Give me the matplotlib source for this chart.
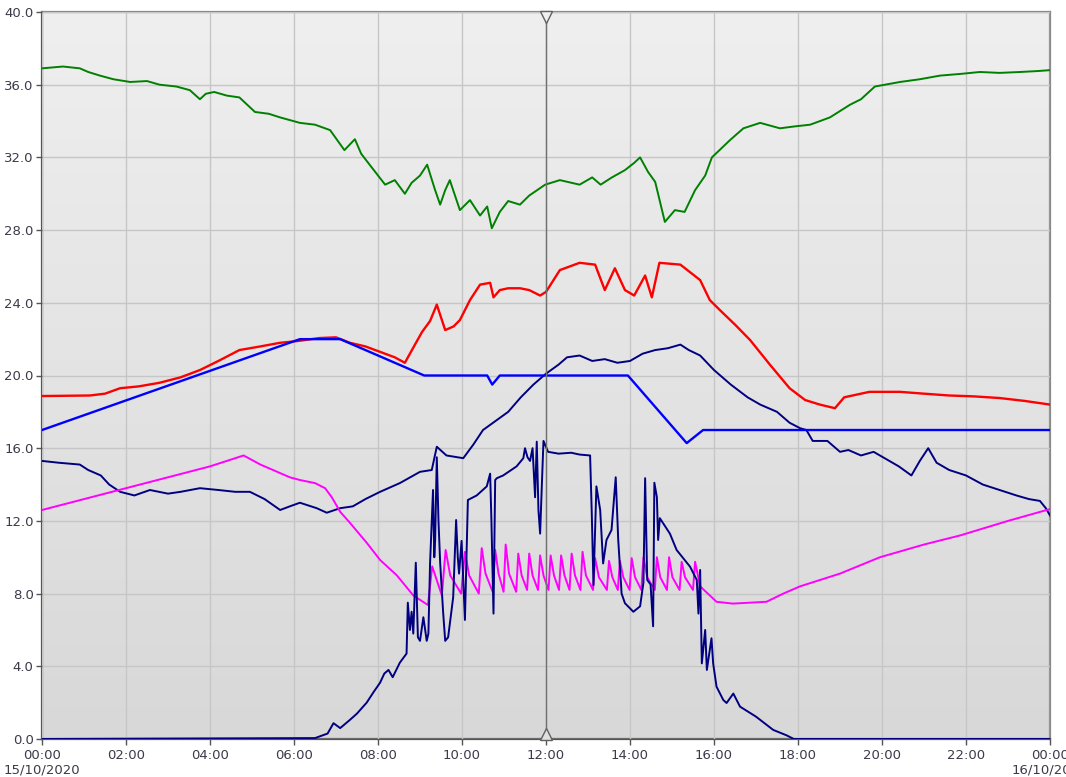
import numpy as np
import matplotlib
matplotlib.use("Agg")
import matplotlib.pyplot as plt
from matplotlib.colors import LinearSegmentedColormap

# hours since 00:00 on 15/10/2020, values read per channel
green_t = [0, 0.5, 0.9, 1.1, 1.38, 1.7, 2.1, 2.5, 2.8, 3.2, 3.52, 3.76, 3.9, 4.1, 4.4, 4.7,
           5.07, 5.4, 5.67, 6.14, 6.5, 6.86, 7.2, 7.45, 7.6, 7.8, 8.17, 8.4, 8.64, 8.8, 9.0,
           9.17, 9.36, 9.48, 9.6, 9.71, 9.95, 10.19, 10.43, 10.6, 10.71, 10.9, 11.1, 11.38,
           11.6, 11.98, 12.33, 12.8, 13.1, 13.3, 13.57, 13.88, 14.1, 14.24, 14.43, 14.6,
           14.83, 15.07, 15.3, 15.55, 15.79, 15.95, 16.38, 16.7, 17.1, 17.57, 17.9, 18.29,
           18.76, 19.24, 19.5, 19.83, 20.43, 20.9, 21.38, 21.9, 22.33, 22.8, 23.29, 23.7, 24]
green_v = [36.9, 37.0, 36.9, 36.7, 36.5, 36.3, 36.15, 36.2, 36.0, 35.9, 35.7, 35.2, 35.5,
           35.6, 35.4, 35.3, 34.5, 34.4, 34.2, 33.9, 33.8, 33.5, 32.4, 33.0, 32.2, 31.6, 30.5,
           30.75, 30.0, 30.6, 31.0, 31.6, 30.2, 29.4, 30.2, 30.75, 29.1, 29.65, 28.8, 29.3,
           28.1, 29.0, 29.6, 29.4, 29.9, 30.5, 30.75, 30.5, 30.9, 30.5, 30.9, 31.3, 31.7,
           32.0, 31.2, 30.65, 28.45, 29.1, 29.0, 30.2, 31.0, 32.0, 32.95, 33.6, 33.9, 33.6,
           33.7, 33.8, 34.2, 34.9, 35.2, 35.9, 36.15, 36.3, 36.5, 36.6, 36.7, 36.65, 36.7,
           36.75, 36.8]

red_t = [0, 1.14, 1.5, 1.86, 2.3, 2.8, 3.3, 3.76, 4.2, 4.7, 5.2, 5.67, 6.1, 6.6, 7.0, 7.33,
         7.7, 8.05, 8.4, 8.64, 8.88, 9.05, 9.24, 9.4, 9.6, 9.8, 9.95, 10.19, 10.43, 10.67,
         10.75, 10.9, 11.1, 11.38, 11.6, 11.86, 12.0, 12.33, 12.8, 13.17, 13.4, 13.64, 13.88,
         14.1, 14.36, 14.52, 14.7, 15.2, 15.67, 15.9, 16.14, 16.5, 16.86, 17.33, 17.8, 18.17,
         18.52, 18.88, 19.1, 19.7, 20.43, 21.0, 21.6, 22.2, 22.8, 23.4, 24]
red_v = [18.87, 18.9, 19.0, 19.3, 19.4, 19.6, 19.9, 20.3, 20.8, 21.4, 21.6, 21.8, 21.9,
         22.06, 22.1, 21.8, 21.6, 21.3, 21.0, 20.7, 21.7, 22.4, 23.0, 23.9, 22.5, 22.7, 23.05,
         24.15, 25.0, 25.1, 24.3, 24.7, 24.8, 24.8, 24.7, 24.4, 24.6, 25.8, 26.2, 26.1, 24.7,
         25.9, 24.7, 24.4, 25.5, 24.3, 26.2, 26.1, 25.25, 24.15, 23.6, 22.8, 21.95, 20.6,
         19.3, 18.65, 18.4, 18.2, 18.8, 19.1, 19.1, 19.0, 18.9, 18.85, 18.76, 18.6, 18.4]

blue_t = [0, 6.14, 7.1, 9.1, 10.6, 10.72, 10.9, 13.95, 15.35, 15.74, 24]
blue_v = [17.0, 22.0, 22.0, 20.0, 20.0, 19.5, 20.0, 20.0, 16.28, 17.0, 17.0]

navy_t = [0, 0.4, 0.9, 1.1, 1.4, 1.6, 1.86, 2.2, 2.57, 3.0, 3.3, 3.76, 4.2, 4.6, 4.95, 5.3,
          5.67, 5.9, 6.14, 6.54, 6.78, 7.1, 7.4, 7.7, 8.05, 8.52, 9.0, 9.28, 9.4, 9.63, 10.03,
          10.27, 10.5, 10.8, 11.1, 11.4, 11.7, 12.0, 12.3, 12.5, 12.8, 13.1, 13.4, 13.7, 14.0,
          14.3, 14.6, 14.9, 15.2, 15.4, 15.67, 16.0, 16.4, 16.8, 17.1, 17.5, 17.8, 18.05, 18.2,
          18.35, 18.7, 19.0, 19.2, 19.5, 19.8, 20.1, 20.4, 20.7, 20.9, 21.1, 21.3, 21.6, 22.0,
          22.4, 22.8, 23.2, 23.5, 23.76, 23.9, 24]
navy_v = [15.3, 15.2, 15.1, 14.8, 14.5, 14.0, 13.6, 13.4, 13.7, 13.5, 13.6, 13.8, 13.7,
          13.6, 13.6, 13.2, 12.6, 12.8, 13.0, 12.7, 12.45, 12.7, 12.8, 13.2, 13.6, 14.08,
          14.7, 14.8, 16.08, 15.6, 15.45, 16.2, 17.0, 17.5, 18.0, 18.8, 19.5, 20.1, 20.6,
          21.0, 21.1, 20.8, 20.9, 20.7, 20.8, 21.2, 21.4, 21.5, 21.7, 21.4, 21.1, 20.3, 19.5,
          18.8, 18.4, 18.0, 17.4, 17.1, 17.0, 16.4, 16.4, 15.8, 15.9, 15.6, 15.8, 15.4, 15.0,
          14.5, 15.3, 16.0, 15.2, 14.8, 14.5, 14.0, 13.7, 13.4, 13.2, 13.1, 12.7, 12.3]

solar_t = [0, 6.5, 6.8, 6.94, 7.1, 7.33, 7.5, 7.73, 7.9, 8.05, 8.15, 8.25, 8.35, 8.52, 8.68,
           8.71, 8.76, 8.8, 8.84, 8.9, 8.95, 9.0, 9.08, 9.16, 9.2, 9.24, 9.31, 9.34, 9.36, 9.4,
           9.44, 9.48, 9.55, 9.6, 9.67, 9.79, 9.86, 9.9, 9.93, 9.99, 10.07, 10.14, 10.35,
           10.59, 10.67, 10.7, 10.75, 10.79, 10.83, 10.98, 11.3, 11.46, 11.5, 11.56, 11.62,
           11.68, 11.74, 11.78, 11.82, 11.86, 11.9, 11.94, 12.05, 12.3, 12.6, 12.8, 13.05,
           13.09, 13.13, 13.2, 13.29, 13.36, 13.44, 13.56, 13.66, 13.72, 13.8, 13.88, 14.08,
           14.24, 14.32, 14.36, 14.41, 14.49, 14.55, 14.58, 14.64, 14.67, 14.71, 14.95, 15.11,
           15.43, 15.59, 15.63, 15.67, 15.71, 15.79, 15.83, 15.94, 15.98, 16.06, 16.22, 16.3,
           16.46, 16.62, 17.0, 17.41, 17.73, 17.9, 24]
solar_v = [0, 0.05, 0.3, 0.87, 0.6, 1.05, 1.4, 2.0, 2.6, 3.1, 3.6, 3.8, 3.4, 4.2, 4.7, 7.5,
           6.0, 7.0, 5.8, 9.7, 5.6, 5.4, 6.7, 5.4, 5.8, 9.7, 13.7, 10.0, 10.9, 15.5, 12.0, 9.7,
           7.0, 5.4, 5.6, 7.8, 12.05, 10.0, 9.1, 10.9, 6.55, 13.15, 13.4, 13.9, 14.6, 12.05,
           6.9, 14.25, 14.35, 14.5, 15.0, 15.45, 16.0, 15.5, 15.3, 16.0, 13.3, 16.36, 12.6,
           11.3, 13.9, 16.4, 15.8, 15.7, 15.75, 15.65, 15.6, 12.4, 8.47, 13.9, 12.6, 9.66,
           10.95, 11.5, 14.4, 10.95, 8.0, 7.47, 7.0, 7.3, 8.6, 14.35, 8.75, 8.5, 6.2, 14.1,
           13.3, 10.95, 12.15, 11.3, 10.4, 9.48, 8.75, 6.9, 9.3, 4.16, 6.0, 3.8, 5.54, 4.16,
           2.88, 2.15, 1.98, 2.5, 1.78, 1.23, 0.5, 0.2, 0, 0]

pink_t = [0, 1, 2, 3, 4, 4.8, 5.2, 5.9, 6.14, 6.5, 6.74, 6.9, 7.1, 7.33, 7.73, 8.05, 8.45,
          8.84, 9.19, 9.29, 9.52, 9.61, 9.72, 9.98, 10.07, 10.17, 10.4, 10.47, 10.56, 10.73,
          10.79, 10.87, 10.99, 11.04, 11.12, 11.29, 11.34, 11.42, 11.55, 11.6, 11.68, 11.81,
          11.86, 11.94, 12.06, 12.11, 12.19, 12.31, 12.36, 12.44, 12.56, 12.61, 12.69, 12.82,
          12.87, 12.95, 13.12, 13.17, 13.26, 13.45, 13.5, 13.58, 13.71, 13.76, 13.84, 13.99,
          14.04, 14.12, 14.27, 14.32, 14.41, 14.59, 14.64, 14.72, 14.88, 14.93, 15.01, 15.18,
          15.23, 15.31, 15.5, 15.55, 15.67, 16.06, 16.45, 17.25, 17.65, 18.05, 19.0, 19.95,
          21.0, 21.86, 23.0, 24]
pink_v = [12.6, 13.2, 13.8, 14.4, 15.0, 15.6, 15.1, 14.4, 14.25, 14.08, 13.8, 13.3, 12.5,
          11.9, 10.8, 9.85, 9.0, 7.9, 7.37, 9.5, 7.9, 10.4, 9.0, 8.0, 10.3, 9.0, 8.0, 10.5,
          9.1, 8.1, 10.4, 9.1, 8.1, 10.7, 9.1, 8.1, 10.2, 9.0, 8.2, 10.2, 9.0, 8.2, 10.1, 9.0,
          8.2, 10.1, 9.0, 8.2, 10.1, 9.0, 8.2, 10.2, 9.0, 8.2, 10.3, 9.0, 8.2, 9.95, 8.9, 8.2,
          9.8, 8.9, 8.2, 9.8, 8.9, 8.2, 9.95, 8.9, 8.2, 10.0, 8.9, 8.2, 10.0, 8.9, 8.2, 10.0,
          8.9, 8.2, 9.75, 8.9, 8.2, 9.75, 8.4, 7.55, 7.45, 7.55, 8.0, 8.4, 9.1, 10.0, 10.7,
          11.2, 12.0, 12.65]

x_ticks = list(range(0, 25, 2))
x_labels = ["00:00\n15/10/2020", "02:00", "04:00", "06:00", "08:00", "10:00", "12:00",
            "14:00", "16:00", "18:00", "20:00", "22:00", "00:00\n16/10/2020"]
y_ticks = [0, 4, 8, 12, 16, 20, 24, 28, 32, 36, 40]
cursor_hour = 12

plt.rcParams['font.family'] = ['Liberation Sans Narrow', 'DejaVu Sans']

fig = plt.figure(figsize=(10.66, 7.77), dpi=100)
ax = fig.add_axes([42 / 1066, 1 - 739 / 777, 1008 / 1066, 727 / 777])

# light grey panel shading, darker towards the bottom
shade = LinearSegmentedColormap.from_list("panel", ["#d8d8d8", "#efefef"])
ax.imshow(np.linspace(0, 1, 256).reshape(-1, 1), cmap=shade, origin="lower",
          extent=[0, 24, 0, 40], aspect="auto", zorder=0)

ax.set_xlim(0, 24)
ax.set_ylim(0, 40)
ax.set_xticks(x_ticks)
ax.set_xticklabels(x_labels)
ax.set_yticks(y_ticks)
ax.set_yticklabels([f"{v:.1f}" for v in y_ticks])
ax.grid(True, color="#c6c6c6", lw=1.0, zorder=1)
ax.set_axisbelow(False)

lw = 1.4
ax.plot(green_t, green_v, color="#008000", lw=lw, zorder=3)
ax.plot(red_t, red_v, color="#ff0000", lw=lw + 0.3, zorder=3)
ax.plot(blue_t, blue_v, color="#0000ff", lw=lw + 0.3, zorder=4)
ax.plot(navy_t, navy_v, color="#000080", lw=lw, zorder=3)
ax.plot(pink_t, pink_v, color="#ff00ff", lw=lw, zorder=3)
ax.plot(solar_t, solar_v, color="#000080", lw=lw, zorder=4)

# cursor line with its end markers
ax.axvline(cursor_hour, color="#707070", lw=1.0, zorder=5)
ax.plot([cursor_hour], [39.7], marker="v", ms=8, mfc="#f0f0f0", mec="#606060",
        mew=1.0, zorder=6, clip_on=False)
ax.plot([cursor_hour], [0.3], marker="^", ms=8, mfc="#e0e0e0", mec="#606060",
        mew=1.0, zorder=6, clip_on=False)

for side in ["left", "bottom"]:
    ax.spines[side].set_color("#555555")
    ax.spines[side].set_linewidth(1.6)
for side in ["top", "right"]:
    ax.spines[side].set_color("#8a8a8a")
    ax.spines[side].set_linewidth(1.6)

ax.tick_params(axis="both", colors="#555555", labelcolor="#3a3a4a", labelsize=9.5,
               length=4, width=1)
ax.tick_params(axis="x", pad=3)
ax.tick_params(axis="y", pad=2)

fig.savefig("out.png", dpi=100)
